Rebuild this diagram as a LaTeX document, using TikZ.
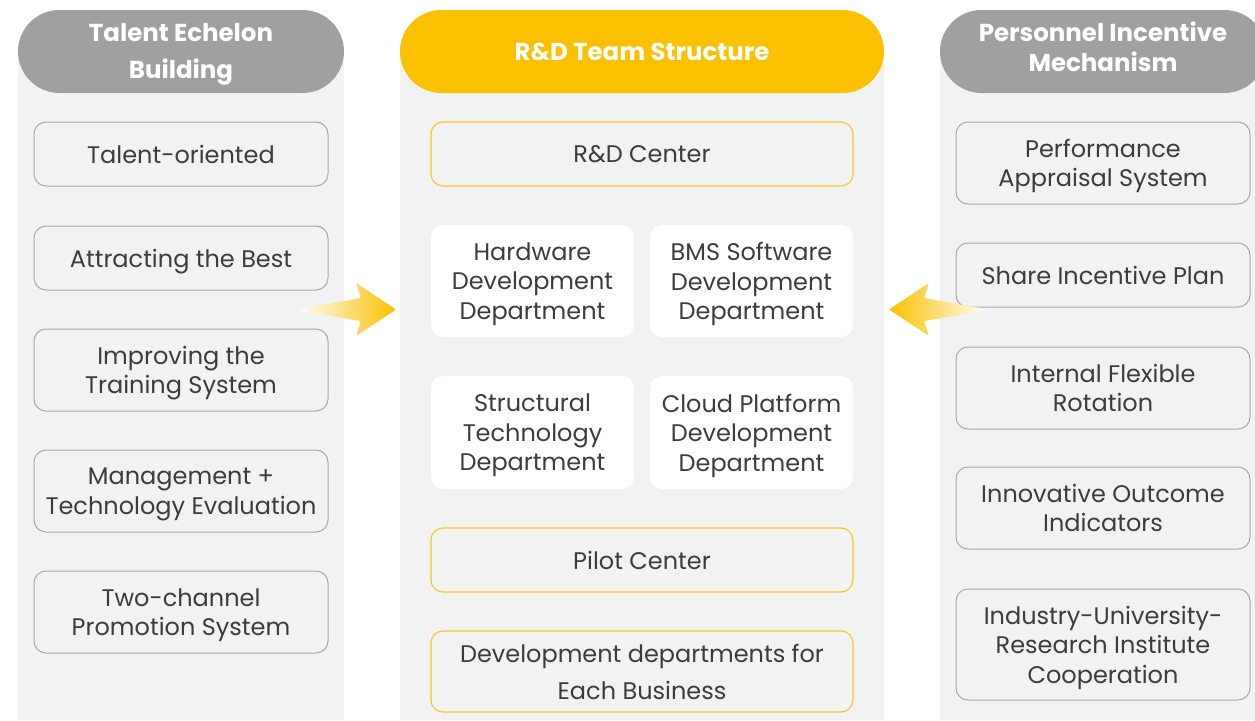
\documentclass[tikz,border=0pt]{standalone}
\usepackage{fontspec}
\setmainfont{Poppins}
\definecolor{colbg}{HTML}{F2F2F2}
\definecolor{hgrey}{HTML}{A0A0A0}
\definecolor{boxgrey}{HTML}{A8A8A8}
\definecolor{yel}{HTML}{FBC000}
\definecolor{yelline}{HTML}{F8C62A}
\definecolor{txt}{HTML}{3C3C3C}
\begin{document}
\begin{tikzpicture}[x=1pt,y=-1pt,
  box/.style={draw=boxgrey, line width=1pt, rounded corners=12pt, fill=colbg, text=txt,
    align=center, font=\fontsize{24}{29.5}\selectfont, inner sep=0pt, minimum width=294pt,
    text depth=0pt},
  ybox/.style={box, draw=yelline, line width=1.2pt, minimum width=422pt},
  wbox/.style={box, draw=none, fill=white, minimum width=203pt},
  header/.style={rounded corners=41.5pt, minimum height=83pt, inner sep=0pt},
  htext/.style={text=white, align=center, inner sep=0pt, text depth=0pt,
    font=\fontsize{24.5}{37}\selectfont\bfseries}]
\useasboundingbox (0,0) rectangle (1255,720);
\clip (0,0) rectangle (1255,720);
\fill[white] (0,0) rectangle (1255,720);
% column backgrounds
\fill[colbg] (18,51) rectangle (344,720);
\fill[colbg] (400,51) rectangle (884,720);
\fill[colbg] (940,51) rectangle (1266,720);
% headers
\node[header, fill=hgrey, minimum width=326pt] (hl) at (181,51.5) {};
\node[htext] (hlt) at (181,51) {Talent Echelon\\Building};
\node[header, fill=yel, minimum width=484pt] (hc) at (642,51.5) {};
\node[htext] (hct) at (642,52) {R\&D Team Structure};
\node[header, fill=hgrey, minimum width=326pt] (hr) at (1103,51.5) {};
\node[htext, font=\fontsize{24.5}{30}\selectfont\bfseries] (hrt) at (1103,47) {Personnel Incentive\\Mechanism};
% left boxes
\node[box, minimum height=64pt] (l1) at (181,154) {Talent-oriented};
\node[box, minimum height=64pt] (l2) at (181,258) {Attracting the Best};
\node[box, minimum height=82pt] (l3) at (181,370) {Improving the\\Training System};
\node[box, minimum height=82pt] (l4) at (181,491) {Management +\\Technology Evaluation};
\node[box, minimum height=82pt] (l5) at (181,612) {Two-channel\\Promotion System};
% center boxes
\node[ybox, minimum height=64pt] (c1) at (642,154) {R\&D Center};
\node[wbox, minimum height=112pt] (c2) at (532.5,281) {Hardware\\Development\\Department};
\node[wbox, minimum height=112pt] (c3) at (751.5,281) {BMS Software\\Development\\Department};
\node[wbox, minimum height=113pt] (c4) at (532.5,432.5) {Structural\\Technology\\Department};
\node[wbox, minimum height=113pt] (c5) at (751.5,432.5) {Cloud Platform\\Development\\Department};
\node[ybox, minimum height=64pt] (c6) at (642,560) {Pilot Center};
\node[ybox, minimum height=81pt, font=\fontsize{24}{37}\selectfont] (c7) at (642,671.5) {Development departments for\\Each Business};
% right boxes
\node[box, minimum height=82pt] (r1) at (1103,163) {Performance\\Appraisal System};
\node[box, minimum height=64pt] (r2) at (1103,275) {Share Incentive Plan};
\node[box, minimum height=82pt] (r3) at (1103,388) {Internal Flexible\\Rotation};
\node[box, minimum height=82pt] (r4) at (1103,508) {Innovative Outcome\\Indicators};
\node[box, minimum height=111pt] (r5) at (1103,644.5) {Industry-University-\\Research Institute\\Cooperation};
% arrows
\shade[left color=yel!6!white, right color=yel, rounded corners=2pt]
  (300,309) -- (361,298) -- (356,283) -- (396,309.5) -- (356,336) -- (361,321) -- (300,311) -- cycle;
\shade[right color=yel!6!white, left color=yel, rounded corners=2pt]
  (985,309) -- (924,298) -- (929,283) -- (889,309.5) -- (929,336) -- (924,321) -- (985,311) -- cycle;
\end{tikzpicture}
\end{document}
